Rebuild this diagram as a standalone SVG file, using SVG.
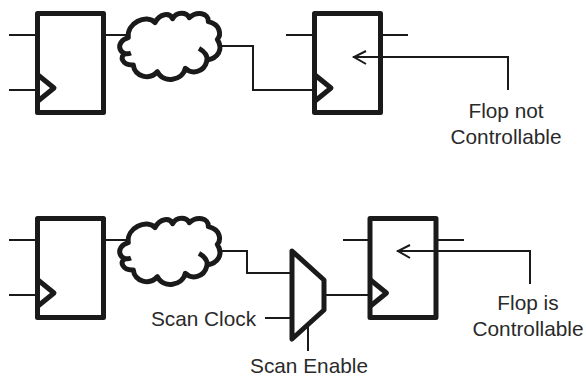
<svg xmlns="http://www.w3.org/2000/svg" width="586" height="377" viewBox="0 0 586 377">
<style>
.w{fill:none;stroke:#1a1a1a;stroke-width:2;stroke-linejoin:miter}
.b{fill:none;stroke:#1a1a1a;stroke-width:5;stroke-linejoin:round;stroke-linecap:round}
.c{fill:none;stroke:#1a1a1a;stroke-width:15;stroke-linejoin:round;stroke-linecap:butt}
text{font-family:"Liberation Sans",Arial,sans-serif;font-size:20.8px;fill:#2a2a2a;text-anchor:middle}
</style>
<defs>
<g id="flop">
<rect class="b" x="37.500" y="13.500" width="66" height="99"/>
<path class="b" d="M38 75L54 88L38 101"/>
</g>
<path id="cloud" class="c" d="M393 159C358 172 342 125 385 113C378 70 440 40 465 68C480 38 510 38 518 56C530 33 560 36 568 53C590 33 627 38 625 65C662 73 664 105 652 118C672 150 652 174 622 180M597 145C615 155 625 170 620 185C612 217 575 224 556 205C548 242 490 252 472 215C450 242 403 230 400 195C368 197 355 168 378 160"/>
</defs>
<g id="connectors">
<path class="w" d="M9 35H36M9 90H36M106 35H126M222 46H253V90H312M286 35H312M383 35H408"/>
<path class="w" d="M353 57H508V90M366 51L354 57L366 64"/>
<path class="w" d="M9 240H36M9 295H36M106 240H126M222 251H247V273H291M265 318H291M308 325V351M326 295H368M343 240H368M438 240H464"/>
<path class="w" d="M397 251H530V284M410 245L398 251L410 258"/>
</g>
<g id="flop1"><use href="#flop"/></g>
<g id="cloud1"><use href="#cloud" transform="scale(.3333)"/></g>
<g id="flop2"><use href="#flop" x="277"/></g>
<g id="flop3"><use href="#flop" y="205"/></g>
<g id="cloud2"><use href="#cloud" transform="translate(0 205) scale(.3333)"/></g>
<g id="mux"><path class="b" d="M292 251L324 280V310L292 339Z"/></g>
<g id="flop4"><use href="#flop" x="332.5" y="205"/></g>
<g id="labels">
<text x="506" y="118">Flop not</text>
<text x="506" y="144">Controllable</text>
<text x="528" y="310">Flop is</text>
<text x="528" y="336">Controllable</text>
<text x="203.500" y="326">Scan Clock</text>
<text x="309" y="372.500">Scan Enable</text>
</g>
</svg>
